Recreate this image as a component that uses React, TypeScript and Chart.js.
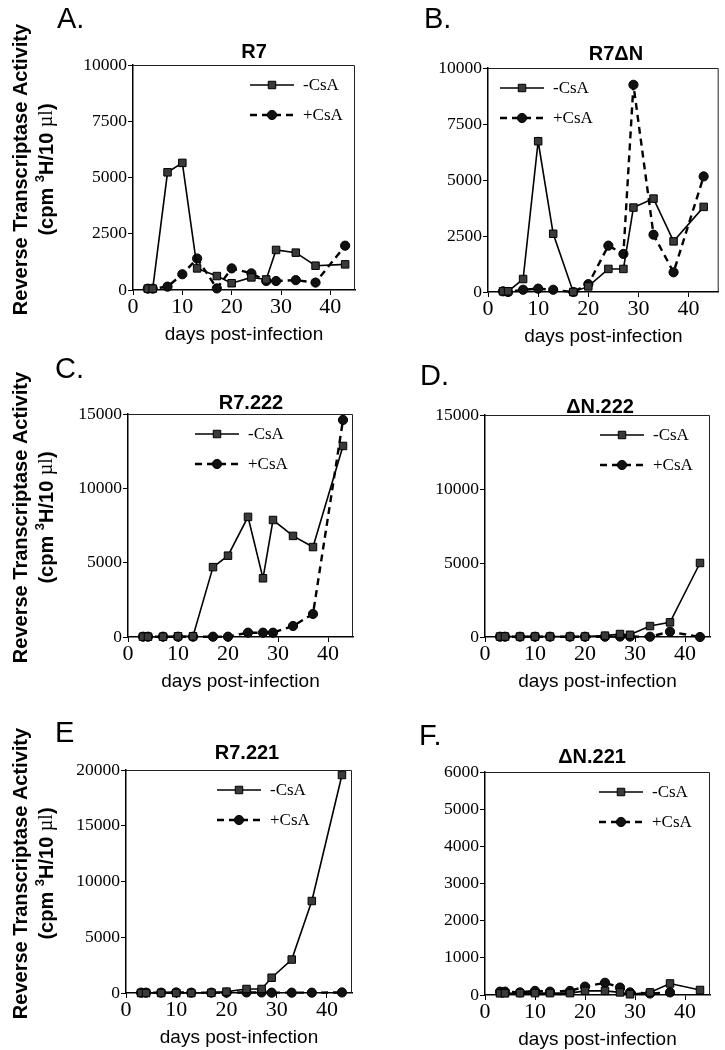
import React, { useEffect, useRef } from "react";
import { Chart, registerables } from "chart.js";

Chart.register(...registerables);

// ---------------- data ----------------
const DAYS = [3, 4, 7, 10, 13, 17, 20, 24, 27, 29, 33, 37, 43];
const X_TICKS = [0, 10, 20, 30, 40];
const SERIES = ["-CsA", "+CsA"];

const R7_NO_CSA = [60, 60, 5230, 5650, 960, 620, 300, 560, 470, 1780, 1660, 1080, 1140];
const R7_CSA = [60, 60, 150, 700, 1400, 70, 960, 740, 400, 400, 440, 330, 1970];
const R7DN_NO_CSA = [30, 30, 580, 6730, 2600, 0, 250, 1030, 1030, 3770, 4170, 2260, 3800];
const R7DN_CSA = [30, 0, 100, 150, 100, 0, 350, 2070, 1700, 9250, 2560, 880, 5160];
const R7_222_NO_CSA = [20, 20, 20, 50, 50, 4700, 5470, 8080, 3950, 7870, 6800, 6050, 12850];
const R7_222_CSA = [20, 20, 20, 20, 20, 20, 20, 290, 290, 290, 740, 1550, 14600];
const DN_222_NO_CSA = [30, 30, 30, 30, 30, 30, 30, 90, 200, 150, 740, 990, 5000];
const DN_222_CSA = [20, 20, 20, 20, 20, 20, 20, 20, 30, 30, 20, 360, 0];
const R7_221_NO_CSA = [0, 0, 0, 0, 0, 20, 120, 360, 360, 1370, 3000, 8250, 19550];
const R7_221_CSA = [30, 30, 30, 50, 30, 30, 30, 50, 50, 30, 30, 30, 50];
const DN_221_NO_CSA = [45, 45, 50, 50, 50, 50, 110, 110, 70, 20, 70, 310, 135];
const DN_221_CSA = [90, 90, 70, 110, 90, 110, 225, 330, 200, 70, 40, 70, null];

const Y_TICKS_10K = [0, 2500, 5000, 7500, 10000];
const Y_TICKS_15K = [0, 5000, 10000, 15000];
const Y_TICKS_20K = [0, 5000, 10000, 15000, 20000];
const Y_TICKS_6K = [0, 1000, 2000, 3000, 4000, 5000, 6000];

const PANEL_LETTERS = ["A.", "B.", "C.", "D.", "E", "F."];
const PANEL_TITLES = ["R7", "R7\u0394N", "R7.222", "\u0394N.222", "R7.221", "\u0394N.221"];
const X_TITLE = "days post-infection";
const Y_TITLE_1 = "Reverse Transcriptase Activity";

// ---------------- layout ----------------
type LayoutDef = {
  col: number;
  area: number[]; // left, top, right, bottom in page px
  xMax: number;
  letter: number[];
  title: number[];
  legendX: number;
  yTitle: boolean;
};

const LAYOUT: LayoutDef[] = [
  { col: 0, area: [133, 65, 355, 290], xMax: 45, letter: [57, 28], title: [254, 52], legendX: 250, yTitle: true },
  { col: 1, area: [488, 68, 720, 292], xMax: 46, letter: [424, 28], title: [616, 54], legendX: 500, yTitle: false },
  { col: 0, area: [128, 414, 353, 637], xMax: 45, letter: [55, 378], title: [251, 403], legendX: 195, yTitle: true },
  { col: 1, area: [485, 415, 710, 637], xMax: 45, letter: [420, 385], title: [600, 407], legendX: 600, yTitle: false },
  { col: 0, area: [126, 770, 352, 993], xMax: 45, letter: [55, 742], title: [247, 753], legendX: 217, yTitle: true },
  { col: 1, area: [485, 772, 710, 995], xMax: 45, letter: [419, 745], title: [592, 757], legendX: 599, yTitle: false },
];

const PANEL_DATA = [
  { minus: R7_NO_CSA, plus: R7_CSA, yTicks: Y_TICKS_10K },
  { minus: R7DN_NO_CSA, plus: R7DN_CSA, yTicks: Y_TICKS_10K },
  { minus: R7_222_NO_CSA, plus: R7_222_CSA, yTicks: Y_TICKS_15K },
  { minus: DN_222_NO_CSA, plus: DN_222_CSA, yTicks: Y_TICKS_15K },
  { minus: R7_221_NO_CSA, plus: R7_221_CSA, yTicks: Y_TICKS_20K },
  { minus: DN_221_NO_CSA, plus: DN_221_CSA, yTicks: Y_TICKS_6K },
];

const COL_W = 363;
const TOP_M = 72;
const BOT_M = 62;
const YW = 62;
const XH = 56;
const SANS = '"Liberation Sans", Arial, sans-serif';
const SERIF = '"Liberation Serif", "Times New Roman", serif';

function canvasRect(L: LayoutDef) {
  const [, t, , b] = L.area;
  const left = L.col * 362;
  const top = t - TOP_M;
  return { left, top, width: COL_W, height: b - t + TOP_M + BOT_M };
}

function makeDecor(idx: number) {
  const L = LAYOUT[idx];
  const rect = canvasRect(L);
  return {
    id: "decor" + idx,
    afterDraw(chart: any) {
      const ctx: CanvasRenderingContext2D = chart.ctx;
      const { left, top, right, bottom } = chart.chartArea;
      const ox = rect.left;
      const oy = rect.top;
      ctx.save();
      // frame (top & right)
      ctx.strokeStyle = "#222";
      ctx.lineWidth = 1;
      ctx.setLineDash([]);
      ctx.beginPath();
      ctx.moveTo(left, top + 0.5);
      ctx.lineTo(right - 0.5, top + 0.5);
      ctx.lineTo(right - 0.5, bottom);
      ctx.stroke();

      // panel letter
      ctx.fillStyle = "#000";
      ctx.font = `29px ${SANS}`;
      ctx.textAlign = "left";
      ctx.textBaseline = "alphabetic";
      ctx.fillText(PANEL_LETTERS[idx], L.letter[0] - ox, L.letter[1] - oy);

      // panel title
      ctx.font = `bold 20px ${SANS}`;
      ctx.textAlign = "center";
      ctx.textBaseline = "middle";
      ctx.fillText(PANEL_TITLES[idx], L.title[0] - ox, L.title[1] - oy);

      // legend
      const ds = chart.data.datasets;
      ds.forEach((d: any, i: number) => {
        const y = top + 20 + 30 * i;
        const x0 = L.legendX - ox;
        const len = 44;
        ctx.strokeStyle = "#000";
        ctx.lineWidth = d.borderWidth;
        ctx.setLineDash(d.borderDash || []);
        ctx.beginPath();
        ctx.moveTo(x0, y);
        ctx.lineTo(x0 + len, y);
        ctx.stroke();
        ctx.setLineDash([]);
        const cx = x0 + len / 2;
        ctx.fillStyle = d.pointBackgroundColor;
        ctx.strokeStyle = d.pointBorderColor;
        ctx.lineWidth = d.pointBorderWidth;
        ctx.beginPath();
        if (d.pointStyle === "rect") {
          const s = d.pointRadius * Math.SQRT1_2;
          ctx.rect(cx - s, y - s, 2 * s, 2 * s);
        } else {
          ctx.arc(cx, y, d.pointRadius, 0, Math.PI * 2);
        }
        ctx.fill();
        ctx.stroke();
        ctx.fillStyle = "#000";
        ctx.font = `17px ${SERIF}`;
        ctx.textAlign = "left";
        ctx.textBaseline = "middle";
        ctx.fillText(d.label, x0 + len + 9, y + 1);
      });

      // y-axis title (left column only)
      if (L.yTitle) {
        const cy = (top + bottom) / 2 - 8;
        ctx.fillStyle = "#000";
        ctx.textBaseline = "middle";
        ctx.save();
        ctx.translate(21 - ox, cy);
        ctx.rotate(-Math.PI / 2);
        ctx.font = `bold 20px ${SANS}`;
        ctx.textAlign = "center";
        ctx.fillText(Y_TITLE_1, 0, 0);
        ctx.restore();
        const parts = [
          { t: "(cpm ", f: `bold 20px ${SANS}`, dy: 0 },
          { t: "3", f: `bold 13px ${SANS}`, dy: -7 },
          { t: "H/10 ", f: `bold 20px ${SANS}`, dy: 0 },
          { t: "\u00b5l", f: `20px ${SERIF}`, dy: 0 },
          { t: ")", f: `bold 20px ${SANS}`, dy: 0 },
        ];
        let total = 0;
        parts.forEach((p) => {
          ctx.font = p.f;
          total += ctx.measureText(p.t).width;
        });
        ctx.save();
        ctx.translate(47 - ox, cy);
        ctx.rotate(-Math.PI / 2);
        ctx.textAlign = "left";
        let x = -total / 2;
        parts.forEach((p) => {
          ctx.font = p.f;
          ctx.fillText(p.t, x, p.dy);
          x += ctx.measureText(p.t).width;
        });
        ctx.restore();
      }
      ctx.restore();
    },
  };
}

function Panel({ idx }: { idx: number }) {
  const ref = useRef<HTMLCanvasElement>(null);
  const L = LAYOUT[idx];
  const D = PANEL_DATA[idx];
  const rect = canvasRect(L);

  useEffect(() => {
    const [l, , r] = L.area;
    const yTicks = D.yTicks;
    const chart = new Chart(ref.current as HTMLCanvasElement, {
      type: "line",
      data: {
        datasets: [
          {
            label: SERIES[0],
            data: DAYS.map((d, i) => ({ x: d, y: D.minus[i] })) as any,
            borderColor: "#000",
            borderWidth: 1.6,
            pointStyle: "rect",
            pointRadius: 5.3,
            pointBackgroundColor: "#3a3a3a",
            pointBorderColor: "#000",
            pointBorderWidth: 1,
            tension: 0,
            fill: false,
            clip: false as any,
          } as any,
          {
            label: SERIES[1],
            data: DAYS.map((d, i) => ({ x: d, y: D.plus[i] })) as any,
            borderColor: "#000",
            borderWidth: 2.4,
            borderDash: [7, 5],
            pointStyle: "circle",
            pointRadius: 4.6,
            pointBackgroundColor: "#111",
            pointBorderColor: "#000",
            pointBorderWidth: 1,
            tension: 0,
            fill: false,
            clip: false as any,
          } as any,
        ],
      },
      options: {
        animation: false,
        responsive: false,
        maintainAspectRatio: false,
        events: [],
        layout: {
          padding: {
            left: l - rect.left - YW,
            right: rect.left + rect.width - r,
            top: TOP_M,
            bottom: BOT_M - XH,
          },
        },
        plugins: {
          legend: { display: false },
          title: { display: false },
          tooltip: { enabled: false },
        },
        scales: {
          x: {
            type: "linear",
            min: 0,
            max: L.xMax,
            afterBuildTicks: (s: any) => {
              s.ticks = X_TICKS.map((v) => ({ value: v }));
            },
            afterFit: (s: any) => {
              s.height = XH;
            },
            grid: {
              display: true,
              drawOnChartArea: false,
              drawTicks: true,
              tickLength: 5,
              color: "#000",
              lineWidth: 1,
            },
            border: { display: true, color: "#000", width: 1.5 },
            ticks: {
              color: "#000",
              font: { family: SERIF, size: 22 },
              padding: -1,
              maxRotation: 0,
              autoSkip: false,
              callback: (v: any) => String(v),
            },
            title: {
              display: true,
              text: X_TITLE,
              color: "#000",
              font: { family: SANS, size: 19 },
              padding: 0,
            },
          },
          y: {
            type: "linear",
            min: 0,
            max: yTicks[yTicks.length - 1],
            afterBuildTicks: (s: any) => {
              s.ticks = yTicks.map((v) => ({ value: v }));
            },
            afterFit: (s: any) => {
              s.width = YW;
            },
            grid: {
              display: true,
              drawOnChartArea: false,
              drawTicks: true,
              tickLength: 5,
              color: "#000",
              lineWidth: 1,
            },
            border: { display: true, color: "#000", width: 1.5 },
            ticks: {
              color: "#000",
              font: { family: SERIF, size: 17.5 },
              padding: 1,
              autoSkip: false,
              callback: (v: any) => String(v),
            },
          },
        },
      },
      plugins: [makeDecor(idx) as any],
    });
    return () => chart.destroy();
  }, []);

  return (
    <canvas
      ref={ref}
      width={rect.width}
      height={rect.height}
      style={{ position: "absolute", left: rect.left, top: rect.top, width: rect.width, height: rect.height }}
    />
  );
}

export default function App() {
  return (
    <div
      style={{
        position: "absolute",
        left: 0,
        top: 0,
        width: 725,
        height: 1050,
        background: "#fff",
        overflow: "hidden",
      }}
    >
      {LAYOUT.map((_, i) => (
        <Panel key={i} idx={i} />
      ))}
    </div>
  );
}
